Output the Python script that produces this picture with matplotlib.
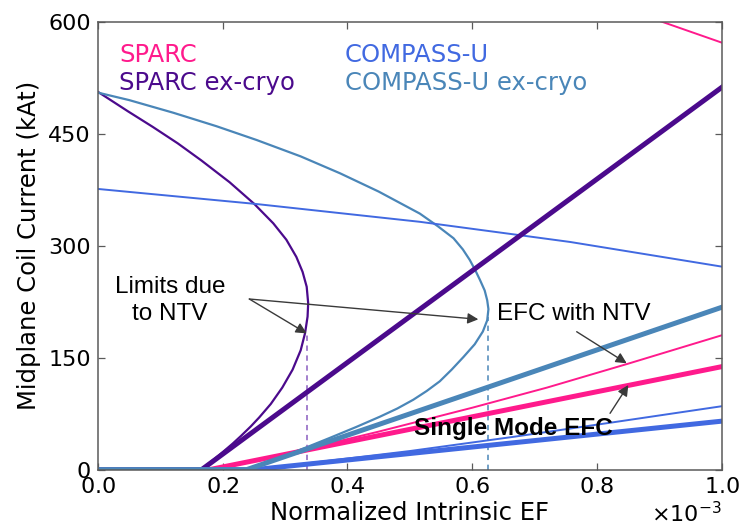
import matplotlib
matplotlib.use("Agg")
import matplotlib.pyplot as plt
from matplotlib.ticker import ScalarFormatter

plt.rcParams['font.family'] = ['DejaVu Sans']
plt.rcParams['mathtext.fontset'] = 'dejavusans'

X_UNIT = 1e-3  # x values below are in units of 1e-3

# ---------------- data (x in 1e-3 units, y in kAt) ----------------
# SPARC ex-cryo NTV-limited curve
sparc_cryo_curve_x = [0.0, 0.048, 0.088, 0.128, 0.166, 0.211, 0.2505, 0.281, 0.302, 0.318,
                      0.328, 0.3346, 0.337, 0.336, 0.332, 0.325, 0.312, 0.2955, 0.277, 0.2585,
                      0.245, 0.229, 0.216, 0.202, 0.189, 0.177, 0.165]
sparc_cryo_curve_y = [506, 480, 459, 437, 414, 385, 356, 330, 308, 285,
                      265, 245, 223, 205, 183, 160, 134, 110, 88, 70,
                      58, 45, 35, 25, 16, 8, 0]
# COMPASS-U ex-cryo NTV-limited curve
compass_cryo_curve_x = [0.0, 0.05, 0.121, 0.19, 0.2545, 0.325, 0.388, 0.45, 0.516, 0.545,
                        0.570, 0.585, 0.596, 0.605, 0.6125, 0.620, 0.624, 0.626, 0.624, 0.617,
                        0.604, 0.586, 0.567, 0.548, 0.527, 0.5055, 0.48, 0.452, 0.414, 0.372,
                        0.34, 0.308, 0.27, 0.238]
compass_cryo_curve_y = [505, 495, 478, 460, 441.5, 419.6, 397, 372.5, 343, 326,
                        310, 295, 281, 267, 254, 240, 227, 215, 200, 185,
                        168, 151, 134, 118.4, 105.4, 93.7, 82, 71, 57.2, 42.7,
                        31.9, 21.5, 9.5, 0]

# COMPASS-U (in-cryo) NTV limit line
compass_limit_x = [0.0, 0.252, 0.516, 0.677, 0.757, 1.0]
compass_limit_y = [376, 356, 332, 314, 305, 272]
# SPARC (in-cryo) NTV limit line (only its end is inside the plot)
sparc_limit_x = [0.88, 1.0]
sparc_limit_y = [607, 572]

# EFC with NTV (thin)
sparc_ntv_x = [0.0, 0.18, 0.3, 0.45, 0.6, 0.72, 0.85, 1.0]
sparc_ntv_y = [0, 0, 21, 51, 83, 110, 142, 180]
compass_ntv_x = [0.0, 0.25, 0.5, 0.666, 0.826, 1.0]
compass_ntv_y = [0, 0, 25, 44, 63.5, 85]

# Single mode EFC (thick, straight)
sparc_single_x = [0.0, 0.178, 1.0]
sparc_single_y = [0, 0, 138]
sparc_cryo_single_x = [0.0, 0.166, 1.0]
sparc_cryo_single_y = [0, 0, 512]
compass_single_x = [0.0, 0.25, 1.0]
compass_single_y = [0, 0, 65]
compass_cryo_single_x = [0.0, 0.238, 1.0]
compass_cryo_single_y = [0, 0, 217.5]

# NTV limit markers (dashed verticals)
sparc_cryo_limit_x = 0.335
sparc_cryo_limit_top = 180
compass_cryo_limit_x = 0.626
compass_cryo_limit_top = 205

legend_labels = ["SPARC", "SPARC ex-cryo", "COMPASS-U", "COMPASS-U ex-cryo"]
x_ticks = [0.0, 0.2, 0.4, 0.6, 0.8, 1.0]
y_ticks = [0, 150, 300, 450, 600]

# ---------------- style ----------------
C_SPARC = "#ff1a8c"
C_SPARC_CRYO = "#4b0a8c"
C_COMPASS = "#4169e1"
C_COMPASS_CRYO = "#4a86b8"
THIN = 1.4
THICK = 3.6


def sx(v):
    return [a * X_UNIT for a in v]


fig = plt.figure(figsize=(7.42, 5.29), dpi=100)
ax = fig.add_axes([98 / 742, (529 - 469.7) / 529, (721.7 - 98) / 742, 448 / 529])

# curves
ax.plot(sx(sparc_cryo_curve_x), sparc_cryo_curve_y, color=C_SPARC_CRYO, lw=THIN + 0.2,
        solid_joinstyle="round")
ax.plot(sx(compass_cryo_curve_x), compass_cryo_curve_y, color=C_COMPASS_CRYO, lw=THIN + 0.2,
        solid_joinstyle="round")
ax.plot(sx(compass_limit_x), compass_limit_y, color=C_COMPASS, lw=THIN)
ax.plot(sx(sparc_limit_x), sparc_limit_y, color=C_SPARC, lw=THIN)

# dashed limits
ax.plot(sx([sparc_cryo_limit_x, sparc_cryo_limit_x]), [0, sparc_cryo_limit_top],
        color="#8a5cc0", lw=1.1, ls=(0, (3.5, 3)))
ax.plot(sx([compass_cryo_limit_x, compass_cryo_limit_x]), [0, compass_cryo_limit_top],
        color=C_COMPASS_CRYO, lw=1.1, ls=(0, (3.5, 3)))

# thin EFC with NTV
ax.plot(sx(sparc_ntv_x), sparc_ntv_y, color=C_SPARC, lw=THIN, solid_joinstyle="round")
ax.plot(sx(compass_ntv_x), compass_ntv_y, color=C_COMPASS, lw=THIN, solid_joinstyle="round")

# thick single mode
ax.plot(sx(sparc_cryo_single_x), sparc_cryo_single_y, color=C_SPARC_CRYO, lw=THICK)
ax.plot(sx(sparc_single_x), sparc_single_y, color=C_SPARC, lw=THICK)
ax.plot(sx(compass_single_x), compass_single_y, color=C_COMPASS, lw=THICK)
ax.plot(sx(compass_cryo_single_x), compass_cryo_single_y, color=C_COMPASS_CRYO, lw=THICK)

ax.set_xlim(0, 1.0 * X_UNIT)
ax.set_ylim(0, 600)
ax.set_xticks(sx(x_ticks))
ax.set_yticks(y_ticks)

fmt = ScalarFormatter(useMathText=True)
fmt.set_powerlimits((-2, 2))
ax.xaxis.set_major_formatter(fmt)

spine_c = "#5a5a5a"
for s in ax.spines.values():
    s.set_color(spine_c)
    s.set_linewidth(1.1)
ax.tick_params(direction="in", top=True, right=True, length=5, width=0.9,
               color=spine_c, labelsize=16, pad=5)
ax.xaxis.get_offset_text().set_fontsize(16)

ax.set_xlabel("Normalized Intrinsic EF", fontsize=17.5, labelpad=3)
ax.set_ylabel("Midplane Coil Current (kAt)", fontsize=17.5, labelpad=5)

# legend-like texts
leg_fs = 17.5
ax.text(0.034 * X_UNIT, 546, legend_labels[0], color=C_SPARC, fontsize=leg_fs, va="baseline")
ax.text(0.034 * X_UNIT, 509, legend_labels[1], color=C_SPARC_CRYO, fontsize=leg_fs, va="baseline")
ax.text(0.396 * X_UNIT, 546, legend_labels[2], color=C_COMPASS, fontsize=leg_fs, va="baseline")
ax.text(0.396 * X_UNIT, 509, legend_labels[3], color=C_COMPASS_CRYO, fontsize=leg_fs, va="baseline")

# annotations
afont = ["Liberation Sans", "DejaVu Sans"]
arrow_c = "#3a3a3a"
ap = dict(arrowstyle="-|>", color=arrow_c, lw=1.0, mutation_scale=16, shrinkA=0, shrinkB=0)
ax.text(0.1155 * X_UNIT, 236, "Limits due", fontsize=17.5, family=afont, ha="center", va="baseline")
ax.text(0.1155 * X_UNIT, 200, "to NTV", fontsize=17.5, family=afont, ha="center", va="baseline")
ax.annotate("", xy=(0.3346 * X_UNIT, 182.6), xytext=(0.2426 * X_UNIT, 228.6), arrowprops=ap)
ax.annotate("", xy=(0.6098 * X_UNIT, 201.4), xytext=(0.2426 * X_UNIT, 228.6), arrowprops=ap)

ax.text(0.7632 * X_UNIT, 200.4, "EFC with NTV", fontsize=17.5, family=afont, ha="center", va="baseline")
ax.annotate("", xy=(0.8477 * X_UNIT, 142.5), xytext=(0.7675 * X_UNIT, 184.8), arrowprops=ap)

ax.text(0.666 * X_UNIT, 46.5, "Single Mode EFC", fontsize=17.5, family=afont, weight="bold",
        ha="center", va="baseline", zorder=5)
ax.annotate("", xy=(0.8503 * X_UNIT, 113.4), xytext=(0.821 * X_UNIT, 75.5), arrowprops=ap)

fig.savefig("out.png", dpi=100)
